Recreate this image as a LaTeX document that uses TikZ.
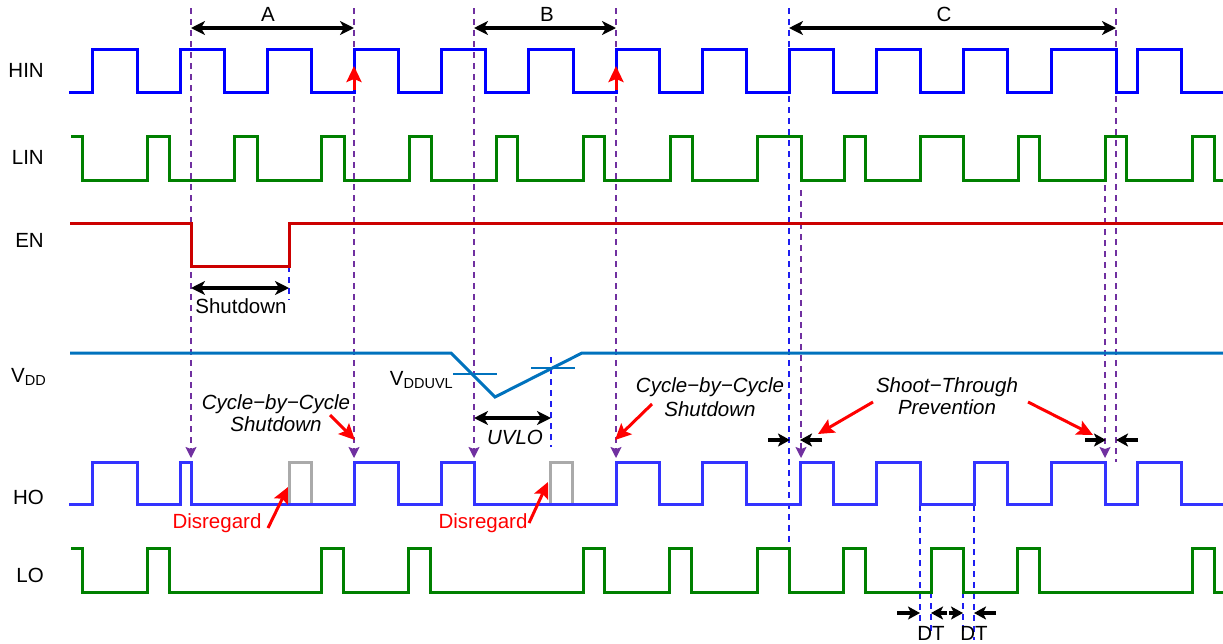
\documentclass[tikz,border=0pt]{standalone}
\usepackage{fontspec}
\setmainfont{Liberation Sans}
\usetikzlibrary{arrows.meta}

\definecolor{hinblue}{RGB}{0,0,255}
\definecolor{hoblue}{RGB}{51,51,255}
\definecolor{sggreen}{RGB}{0,128,0}
\definecolor{enred}{RGB}{204,0,0}
\definecolor{vddblue}{RGB}{0,114,189}
\definecolor{cutpurple}{RGB}{112,48,160}
\definecolor{dtblue}{RGB}{30,30,240}
\definecolor{ghostgray}{RGB}{170,170,170}

\newcommand{\lowsub}[1]{\raisebox{-2.5pt}{\fontsize{14.5}{16}\selectfont #1}}

\begin{document}
\begin{tikzpicture}[x=1pt, y=-1pt, line join=miter,
  sig/.style={line width=3pt},
  lbl/.style={inner sep=0pt, font=\fontsize{20.5}{24}\selectfont},
  signame/.style={lbl, anchor=east},
  note/.style={inner sep=0pt, align=center, font=\fontsize{20.5}{21.5}\selectfont\itshape},
  purpledash/.style={cutpurple, line width=1.4pt, dash pattern=on 6pt off 5pt},
  purplehit/.style={purpledash, -{Stealth[length=11pt,width=11pt,inset=2pt]}},
  bluedash/.style={dtblue, line width=1.3pt, dash pattern=on 6pt off 5pt},
  span/.style={line width=3.2pt, {Stealth[length=14pt,width=14pt,inset=4pt]}-{Stealth[length=14pt,width=14pt,inset=4pt]}},
  nudge/.style={line width=3.2pt, -{Stealth[length=12pt,width=13pt,inset=3pt]}},
  callout/.style={red, line width=3pt, -{Stealth[length=16pt,width=15pt,inset=3pt]}}]

  %% ════ signal names ════
  \node[signame] (hin) at (44,70) {HIN};
  \node[signame] (lin) at (44,157) {LIN};
  \node[signame] (en) at (44,240) {EN};
  \node[signame] (vdd) at (46,377) {V\lowsub{DD}};
  \node[signame] (ho) at (44,497) {HO};
  \node[signame] (lo) at (44,575) {LO};

  %% ════ dashed markers ════
  \draw[purplehit] (191,8) -- (191,458);
  \draw[purplehit] (354,8) -- (354,458);
  \draw[purplehit] (474,8) -- (474,458);
  \draw[purplehit] (616,8) -- (616,458);
  \draw[purplehit] (801,190) -- (801,458);
  \draw[purplehit] (1105,185) -- (1105,458);
  \draw[purpledash] (1116,8) -- (1116,462);
  \draw[bluedash] (789,8) -- (789,548);
  \draw[bluedash] (289,266) -- (289,300);
  \draw[bluedash] (551,357) -- (551,447);
  \draw[bluedash] (920,505) -- (920,640);
  \draw[bluedash] (931,592) -- (931,632);
  \draw[bluedash] (963,592) -- (963,632);
  \draw[bluedash] (974,505) -- (974,640);

  %% ════ waveforms ════
  % HIN
  \draw[sig, hinblue] (69,92) -- (92,92) |- (137,49) |- (180,92) |- (224,49) |- (267,92)
    |- (311,49) |- (354,92) |- (398,49) |- (441,92) |- (485,49) |- (528,92) |- (573,49)
    |- (616,92) |- (659,49) |- (702,92) |- (746,49) |- (789,92) |- (833,49) |- (876,92)
    |- (920,49) |- (963,92) |- (1007,49) |- (1051,92) |- (1116,49) |- (1137,92)
    |- (1181,49) |- (1223,92);
  % LIN
  \draw[sig, sggreen] (71,136) -- (82,136) |- (147,180) |- (169,136) |- (234,180) |- (257,136)
    |- (321,180) |- (344,136) |- (409,180) |- (431,136) |- (496,180) |- (517,136) |- (583,180)
    |- (604,136) |- (670,180) |- (692,136) |- (757,180) |- (801,136) |- (844,180) |- (865,136)
    |- (920,180) |- (963,136) |- (1018,180) |- (1039,136) |- (1105,180) |- (1126,136)
    |- (1192,180) |- (1214,136) |- (1223,180);
  % EN
  \draw[sig, enred] (70,223) -- (191,223) |- (289,266) |- (1223,223);
  % VDD
  \draw[sig, vddblue] (70,353) -- (451,353) -- (495,397) -- (582,353) -- (1223,353);
  \draw[vddblue, line width=1.3pt] (453,374) -- (497,374);
  \draw[vddblue, line width=1.3pt] (531,368) -- (575,368);
  % HO (ignored pulses first)
  \draw[sig, ghostgray] (289,504) |- (311,462) -- (311,504);
  \draw[sig, ghostgray] (550,504) |- (572,462) -- (572,504);
  \draw[sig, hoblue] (69,504) -- (92,504) |- (137,462) |- (180,504) |- (191,462) |- (354,504)
    |- (398,462) |- (441,504) |- (474,462) |- (616,504) |- (659,462) |- (702,504) |- (746,462)
    |- (800,504) |- (833,462) |- (876,504) |- (920,462) |- (974,504) |- (1007,462)
    |- (1051,504) |- (1105,462) |- (1137,504) |- (1181,462) |- (1223,504);
  % LO
  \draw[sig, sggreen] (71,548) -- (82,548) |- (147,592) |- (169,548) |- (321,592) |- (343,548)
    |- (408,592) |- (430,548) |- (583,592) |- (604,548) |- (669,592) |- (691,548) |- (757,592)
    |- (789,548) |- (843,592) |- (865,548) |- (931,592) |- (963,548) |- (1017,592)
    |- (1039,548) |- (1192,592) |- (1214,548) |- (1223,592);

  %% ════ spans ════
  \coordinate (a0) at (191,28);  \coordinate (a1) at (354,28);
  \coordinate (b0) at (474,28);  \coordinate (b1) at (616,28);
  \coordinate (c0) at (789,28);  \coordinate (c1) at (1116,28);
  \coordinate (sd0) at (191,288); \coordinate (sd1) at (289,288);
  \coordinate (uv0) at (474,418); \coordinate (uv1) at (551,418);
  \draw[span] (a0) -- (a1);
  \draw[span] (b0) -- (b1);
  \draw[span] (c0) -- (c1);
  \draw[span] (sd0) -- (sd1);
  \draw[span] (uv0) -- (uv1);
  \node[lbl] (tagA) at (268,14) {A};
  \node[lbl] (tagB) at (547,14) {B};
  \node[lbl] (tagC) at (944,14) {C};
  \node[lbl] (shut) at (241,306) {Shutdown};
  \node[lbl, font=\fontsize{20.5}{24}\selectfont\itshape] (uvlo) at (515,437) {UVLO};
  \node[signame] (uvl) at (453,380) {V\lowsub{DDUVL}};

  %% ════ dead-time / shoot-through nudges ════
  \draw[nudge] (768,440) -- (790,440);
  \draw[nudge] (822,440) -- (800,440);
  \draw[nudge] (1085,440) -- (1106,440);
  \draw[nudge] (1138,440) -- (1116,440);
  \draw[nudge] (897,613) -- (920,613);
  \draw[nudge] (947,613) -- (931,613);
  \draw[nudge] (949,613) -- (963,613);
  \draw[nudge] (996,613) -- (974,613);
  \node[lbl] (dt1) at (931,633) {DT};
  \node[lbl] (dt2) at (974,633) {DT};

  %% ════ red callouts ════
  \draw[callout] (354,90) -- (354,66);
  \draw[callout] (616,90) -- (616,66);
  \node[note] (cbc1) at (276,413) {Cycle−by−Cycle\\Shutdown};
  \node[note, font=\fontsize{20.5}{24.5}\selectfont\itshape] (cbc2) at (710,397) {Cycle−by−Cycle\\Shutdown};
  \node[note] (stp) at (947,396) {Shoot−Through\\Prevention};
  \node[lbl, red] (dis1) at (217,523) {Disregard};
  \node[lbl, red] (dis2) at (483,523) {Disregard};
  \coordinate (cbc1s) at (330,415); \coordinate (cbc1e) at (355,440);
  \coordinate (cbc2s) at (652,404); \coordinate (cbc2e) at (615,440);
  \coordinate (stp1s) at (873,402); \coordinate (stp1e) at (818,434);
  \coordinate (stp2s) at (1028,402); \coordinate (stp2e) at (1093,435);
  \coordinate (dis1s) at (268,528); \coordinate (dis1e) at (288,487);
  \coordinate (dis2s) at (529,523); \coordinate (dis2e) at (548,482);
  \draw[callout] (cbc1s) -- (cbc1e);
  \draw[callout] (cbc2s) -- (cbc2e);
  \draw[callout] (stp1s) -- (stp1e);
  \draw[callout] (stp2s) -- (stp2e);
  \draw[callout] (dis1s) -- (dis1e);
  \draw[callout] (dis2s) -- (dis2e);

  % fix the canvas
  \pgfresetboundingbox
  \path[use as bounding box] (0,0) rectangle (1223,643);
\end{tikzpicture}
\end{document}
